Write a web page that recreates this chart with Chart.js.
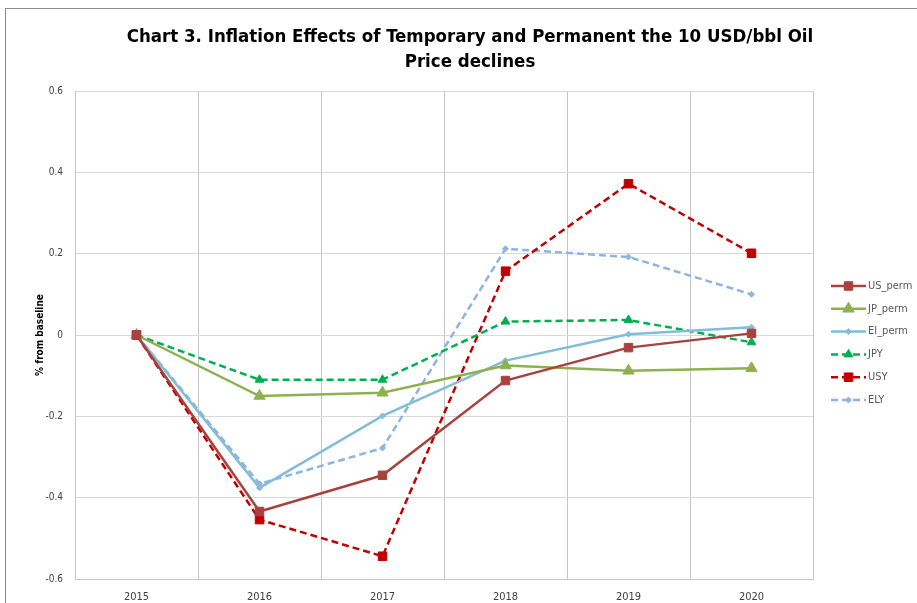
<!DOCTYPE html>
<html>
<head>
<meta charset="utf-8">
<script src="https://cdn.jsdelivr.net/npm/chart.js@4.4.1/dist/chart.umd.min.js"></script>
<style>
  html, body { margin: 0; padding: 0; background: #fff; overflow: hidden; width: 917px; height: 603px; }
  #frame { position: absolute; left: 5px; top: 8px; width: 960px; height: 640px; border-left: 1px solid #8c8c8c; border-top: 1px solid #8c8c8c; }
  #wrap { position: absolute; left: 6px; top: 9px; width: 930px; height: 610px; }
</style>
</head>
<body>
<div id="frame"></div>
<div id="wrap"><canvas id="mainChart" width="930" height="610"></canvas></div>
<script>
// --- DATA ---
const years = ['2015', '2016', '2017', '2018', '2019', '2020'];
const usPerm = [0, -0.434, -0.345, -0.112, -0.031, 0.004];
const jpPerm = [0, -0.150, -0.142, -0.075, -0.088, -0.082];
const eiPerm = [0, -0.376, -0.199, -0.063, 0.002, 0.019];
const jpy = [0, -0.110, -0.110, 0.033, 0.037, -0.018];
const usy = [0, -0.454, -0.544, 0.157, 0.372, 0.201];
const ely = [0, -0.366, -0.278, 0.212, 0.192, 0.100];

const titleLines = ['Chart 3. Inflation Effects of Temporary and Permanent the 10 USD/bbl Oil', 'Price declines'];
const DASH = [7, 4];

function series(label, data, color, style, radius, dashed) {
    return {
        label: label,
        data: data,
        borderColor: color,
        backgroundColor: color,
        pointBackgroundColor: color,
        pointBorderColor: color,
        borderWidth: 2.5,
        borderDash: dashed ? DASH : [],
        pointStyle: style,
        pointRadius: radius,
        pointBorderWidth: 1,
        tension: 0,
        fill: false
    };
}

// title drawn centred on the whole chart frame, not the plot
const titlePlugin = {
    id: 'frameTitle',
    afterDraw(chart) {
        const ctx = chart.ctx;
        ctx.save();
        ctx.fillStyle = '#000';
        ctx.font = 'bold 18.5px "DejaVu Sans Condensed", sans-serif';
        ctx.textAlign = 'center';
        ctx.textBaseline = 'middle';
        ctx.fillText(titleLines[0], 464, 28);
        ctx.fillText(titleLines[1], 464, 53);
        ctx.restore();
    }
};

// legend on the right, Excel style: line sample with marker in the middle
const legendPlugin = {
    id: 'sideLegend',
    afterDraw(chart) {
        const ctx = chart.ctx;
        const x0 = 825, x1 = 860, top = 277, step = 22.8;
        chart.data.datasets.forEach((ds, i) => {
            const y = top + i * step;
            ctx.save();
            ctx.strokeStyle = ds.borderColor;
            ctx.lineWidth = ds.borderWidth;
            ctx.setLineDash(ds.borderDash);
            ctx.beginPath();
            ctx.moveTo(x0, y);
            ctx.lineTo(x1, y);
            ctx.stroke();
            ctx.setLineDash([]);
            ctx.fillStyle = ds.pointBackgroundColor;
            ctx.strokeStyle = ds.pointBorderColor;
            ctx.lineWidth = 1;
            Chart.helpers.drawPoint(ctx, { pointStyle: ds.pointStyle, radius: ds.pointRadius, rotation: 0, borderWidth: 1 }, (x0 + x1) / 2, y);
            ctx.fillStyle = '#595959';
            ctx.font = '11px "DejaVu Sans Condensed", sans-serif';
            ctx.textAlign = 'left';
            ctx.textBaseline = 'middle';
            ctx.fillText(ds.label, x1 + 2, y);
            ctx.restore();
        });
    }
};

const ctx = document.getElementById('mainChart').getContext('2d');
const myChart = new Chart(ctx, {
    type: 'line',
    data: {
        labels: years,
        datasets: [
            series('US_perm', usPerm, '#A8423F', 'rect', 6, false),
            series('JP_perm', jpPerm, '#8FB04E', 'triangle', 6.5, false),
            series('EI_perm', eiPerm, '#82BCD8', 'rectRot', 3, false),
            series('JPY', jpy, '#00B050', 'triangle', 5, true),
            series('USY', usy, '#C00000', 'rect', 6, true),
            series('ELY', ely, '#8DB4E2', 'rectRot', 3, true)
        ]
    },
    options: {
        responsive: false,
        animation: false,
        layout: { padding: { top: 82, right: 123, bottom: 0, left: 0 } },
        plugins: {
            legend: { display: false },
            title: { display: false },
            tooltip: { enabled: false }
        },
        scales: {
            x: {
                offset: true,
                grid: { offset: true, color: '#C6C6C6', lineWidth: 1, drawTicks: false },
                border: { color: '#C6C6C6' },
                ticks: { color: '#404040', font: { family: 'DejaVu Sans Condensed', size: 11 }, padding: 12 },
                afterFit: scale => { scale.height = 40; }
            },
            y: {
                min: -0.6,
                max: 0.6,
                grid: { color: '#D9D9D9', lineWidth: 1, drawTicks: false },
                border: { color: '#C6C6C6' },
                ticks: {
                    stepSize: 0.2,
                    color: '#404040',
                    font: { family: 'DejaVu Sans Condensed', size: 10 },
                    padding: 12,
                    callback: v => String(Math.round(v * 10) / 10)
                },
                title: {
                    display: true,
                    text: '% from baseline',
                    color: '#000',
                    font: { family: 'DejaVu Sans Condensed', size: 10, weight: 'bold' },
                    padding: { top: 28, bottom: 0 }
                },
                afterFit: scale => { scale.width = 69; }
            }
        }
    },
    plugins: [titlePlugin, legendPlugin]
});
</script>
</body>
</html>
